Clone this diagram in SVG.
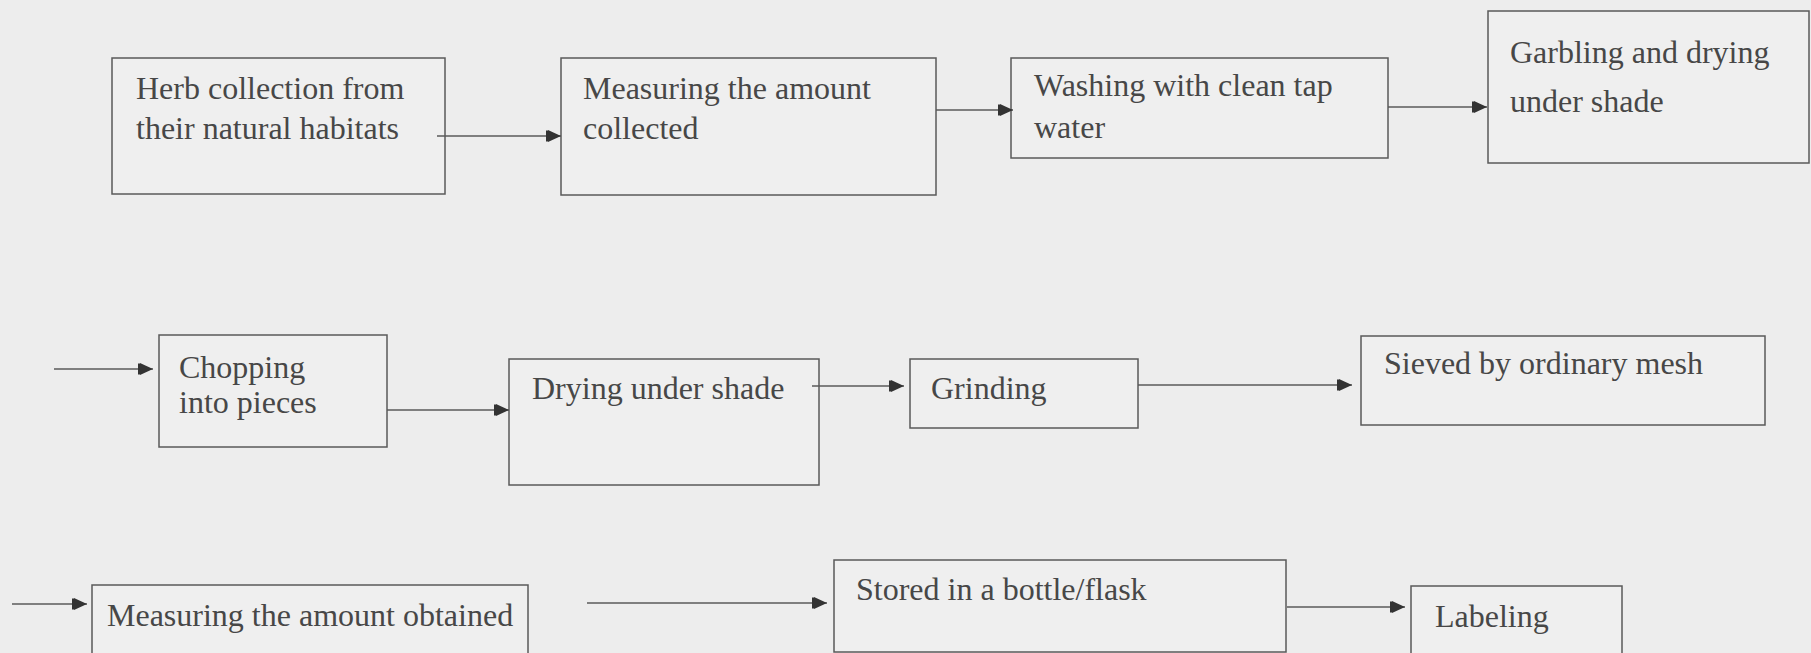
<svg xmlns="http://www.w3.org/2000/svg" width="1811" height="653" viewBox="0 0 1811 653">
<style>
.bg{fill:#ededed}
.box{fill:#efefef;stroke:#5a5a5a;stroke-width:1.5}
.t{font-family:"Liberation Serif","Times New Roman",serif;font-size:32px;fill:#474747}
.c{stroke:#5a5a5a;stroke-width:1.4;fill:none}
</style>
<defs>
<marker id="ah" markerUnits="userSpaceOnUse" markerWidth="16" markerHeight="14" refX="15" refY="7" orient="auto">
<path d="M2,1 L15,7 L2,13 z" fill="#333"/>
<path d="M1,1.5 L1,12.5" stroke="#333" stroke-width="2"/>
</marker>
</defs>
<rect class="bg" x="0" y="0" width="1811" height="653"/>

<g id="n1"><rect class="box" x="112" y="58" width="333" height="136"/><text class="t" x="136" y="99">Herb collection from</text><text class="t" x="136" y="139">their natural habitats</text></g>
<g id="n2"><rect class="box" x="561" y="58" width="375" height="137"/><text class="t" x="583" y="99">Measuring the amount</text><text class="t" x="583" y="139">collected</text></g>
<g id="n3"><rect class="box" x="1011" y="58" width="377" height="100"/><text class="t" x="1034" y="96">Washing with clean tap</text><text class="t" x="1034" y="138">water</text></g>
<g id="n4"><rect class="box" x="1488" y="11" width="321" height="152"/><text class="t" x="1510" y="63">Garbling and drying</text><text class="t" x="1510" y="112">under shade</text></g>

<g id="n5"><rect class="box" x="159" y="335" width="228" height="112"/><text class="t" x="179" y="378">Chopping</text><text class="t" x="179" y="413">into pieces</text></g>
<g id="n6"><rect class="box" x="509" y="359" width="310" height="126"/><text class="t" x="532" y="399">Drying under shade</text></g>
<g id="n7"><rect class="box" x="910" y="359" width="228" height="69"/><text class="t" x="931" y="399">Grinding</text></g>
<g id="n8"><rect class="box" x="1361" y="336" width="404" height="89"/><text class="t" x="1384" y="374">Sieved by ordinary mesh</text></g>

<g id="n9"><rect class="box" x="92" y="585" width="436" height="80"/><text class="t" x="107" y="626">Measuring the amount obtained</text></g>
<g id="n10"><rect class="box" x="834" y="560" width="452" height="92"/><text class="t" x="856" y="600">Stored in a bottle/flask</text></g>
<g id="n11"><rect class="box" x="1411" y="586" width="211" height="80"/><text class="t" x="1435" y="627">Labeling</text></g>

<g id="connectors">
<line class="c" x1="437" y1="136" x2="561" y2="136" marker-end="url(#ah)"/>
<line class="c" x1="936" y1="110" x2="1013" y2="110" marker-end="url(#ah)"/>
<line class="c" x1="1388" y1="107" x2="1487" y2="107" marker-end="url(#ah)"/>
<line class="c" x1="54" y1="369" x2="153" y2="369" marker-end="url(#ah)"/>
<line class="c" x1="387" y1="410" x2="509" y2="410" marker-end="url(#ah)"/>
<line class="c" x1="812" y1="386" x2="904" y2="386" marker-end="url(#ah)"/>
<line class="c" x1="1138" y1="385" x2="1352" y2="385" marker-end="url(#ah)"/>
<line class="c" x1="12" y1="604" x2="87" y2="604" marker-end="url(#ah)"/>
<line class="c" x1="587" y1="603" x2="827" y2="603" marker-end="url(#ah)"/>
<line class="c" x1="1287" y1="607" x2="1405" y2="607" marker-end="url(#ah)"/>
</g>
</svg>
